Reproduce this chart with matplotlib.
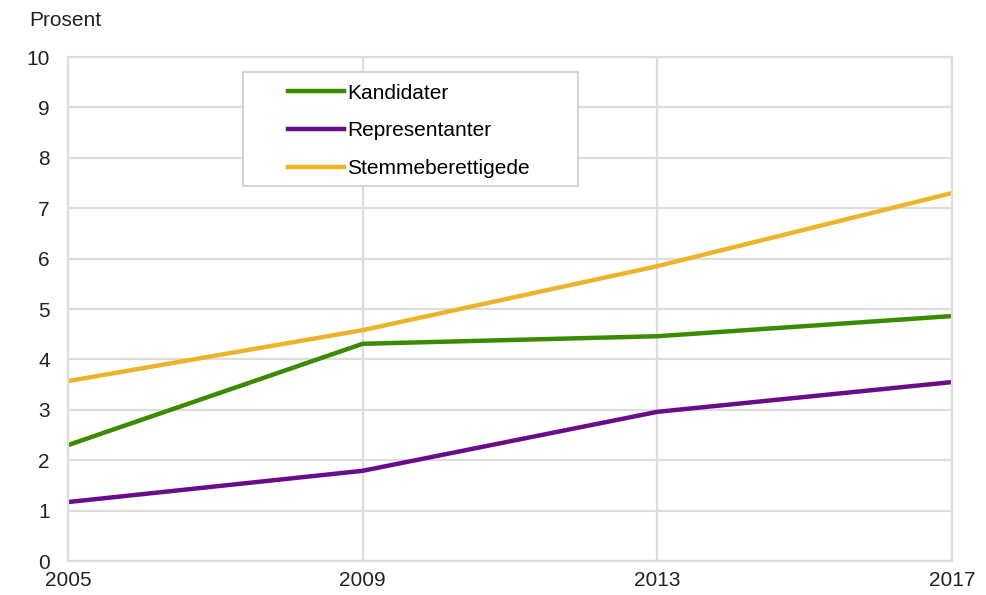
import matplotlib.pyplot as plt
from matplotlib.patches import Rectangle

plt.rcParams['font.family'] = ['Liberation Sans', 'DejaVu Sans']

years = [2005, 2009, 2013, 2017]
kandidater = [2.30, 4.31, 4.46, 4.86]
representanter = [1.17, 1.79, 2.96, 3.55]
stemmeberettigede = [3.57, 4.58, 5.85, 7.30]

series = [
    ("Kandidater", kandidater, "#3b8a00"),
    ("Representanter", representanter, "#6a0c8a"),
    ("Stemmeberettigede", stemmeberettigede, "#ebb42a"),
]

fig = plt.figure(figsize=(9.87, 5.95), dpi=100)
ax = fig.add_axes([0.0689, 0.0571, 0.8956, 0.8471])

for name, vals, col in series:
    ax.plot(years, vals, color=col, lw=3.2, label=name, solid_joinstyle="round")

ax.set_xlim(2005, 2017)
ax.set_ylim(0, 10)
ax.set_xticks(years)
ax.set_yticks(range(0, 11))
ax.grid(True, color="#dddddd", lw=1.6)
ax.set_axisbelow(True)
for sp in ax.spines.values():
    sp.set_color("#dddddd")
    sp.set_linewidth(1.6)
ax.tick_params(length=0, labelsize=15, colors="#222222")
ax.tick_params(axis="y", pad=13)
ax.tick_params(axis="x", pad=7)

fig.text(29 / 987, 1 - 21 / 595, "Prosent", fontsize=15, color="#222222",
         ha="left", va="center")

# legend frame
ax.add_patch(Rectangle((0.198, 0.744), 0.379, 0.226, transform=ax.transAxes,
                       facecolor="white", edgecolor="#cccccc", lw=1.2, zorder=4))
leg = ax.legend(loc="upper left", bbox_to_anchor=(0.249, 0.947), frameon=False,
                fontsize=15, handlelength=2.7, handletextpad=0.15,
                labelspacing=0.9, borderpad=0, borderaxespad=0)
leg.set_zorder(5)

fig.savefig("out.png", dpi=100, facecolor="white")
